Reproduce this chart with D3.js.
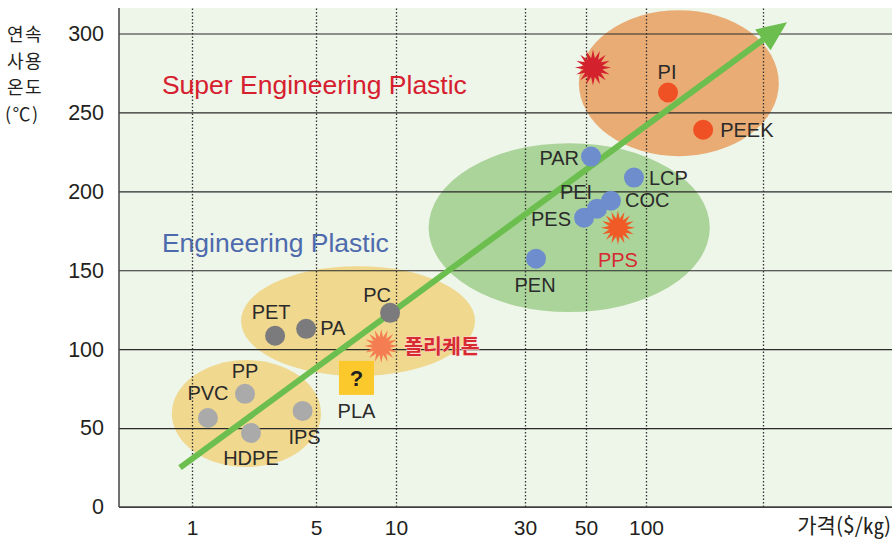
<!DOCTYPE html>
<html><head><meta charset="utf-8">
<script src="https://cdn.jsdelivr.net/npm/d3@7"></script>
<style>
html,body{margin:0;padding:0;background:#fff;}
text{font-family:"Liberation Sans",Arial,"Noto Sans CJK KR",sans-serif;}
.kr{font-family:"Noto Sans CJK KR","Liberation Sans",sans-serif;}
</style></head>
<body>
<svg id="c" width="892" height="539"></svg>
<script>
// ---- data ----
const yTicks = [0, 50, 100, 150, 200, 250, 300];
const xTickValues = [1, 5, 10, 30, 50, 100, 300];
const xTickLabels = ["1", "5", "10", "30", "50", "100", ""];
const yTitle = ["연속", "사용", "온도", "(℃)"];
const xTitle = "가격($/㎏)";

const commodityNames = ["PVC", "PP", "HDPE", "IPS"];
const commodityPrice = [1.23, 1.99, 2.15, 4.2];
const commodityTemp = [56.4, 71.7, 46.9, 60.9];

const engNames = ["PET", "PA", "PC"];
const engPrice = [2.94, 4.4, 9.5];
const engTemp = [108.5, 112.9, 123];

const superEngNames = ["PAR", "LCP", "COC", "PEI", "PES", "PEN"];
const superEngPrice = [53, 87, 66.7, 56.8, 49.2, 32.9];
const superEngTemp = [222, 208.7, 194, 189, 183.3, 157.3];

const topNames = ["PI", "PEEK"];
const topPrice = [123, 171];
const topTemp = [262.6, 239];

const starNames = ["폴리케톤", "PPS", ""];
const starPrice = [8.8, 72.3, 54.2];
const starTemp = [102, 177, 278.4];

const plaName = "PLA";
const plaPrice = 7.1;
const plaTemp = 81.8;

// group ellipses: [price min, price max] x [temp min, temp max]
const groupNames = ["commodity", "engineering", "superEng", "top"];
const groupPriceMin = [0.77, 1.89, 13.2, 47.1];
const groupPriceMax = [5.22, 19.6, 182, 348];
const groupTempMin = [25.3, 83.0, 123.5, 222.3];
const groupTempMax = [93.1, 152.6, 230.5, 314.8];

const trendFrom = [0.856, 24.9];
const trendTo = [376, 307.2];

const categoryLabels = ["Super Engineering Plastic", "Engineering Plastic"];
const categoryPrice = [0.677, 0.677];
const categoryTemp = [261.9, 161.5];

// ---- scales ----
const svg = d3.select("#c");
const plotL = 119, plotR = 892, plotT = 8, plotB = 507;
const xLog = d3.scaleLinear()
  .domain(xTickValues.map(Math.log10))
  .range([192, 316, 396, 525, 586, 646, 763]);
const x = v => xLog(Math.log10(v));
const y = d3.scaleLinear().domain([0, 300]).range([plotB, 33.5]);

// background
svg.append("rect").attr("x", plotL).attr("y", plotT)
  .attr("width", plotR - plotL).attr("height", plotB - plotT).attr("fill", "#eef5e9");

// ellipses
const groupColors = ["#f0d88f", "#f0d88f", "#abd49a", "#e9ac74"];
svg.append("g").selectAll("ellipse").data(groupNames).join("ellipse")
  .attr("cx", (d, i) => (x(groupPriceMin[i]) + x(groupPriceMax[i])) / 2)
  .attr("cy", (d, i) => (y(groupTempMin[i]) + y(groupTempMax[i])) / 2)
  .attr("rx", (d, i) => (x(groupPriceMax[i]) - x(groupPriceMin[i])) / 2)
  .attr("ry", (d, i) => (y(groupTempMin[i]) - y(groupTempMax[i])) / 2)
  .attr("fill", (d, i) => groupColors[i]);

// grid
const gy = svg.append("g")
  .attr("transform", `translate(${plotL},0)`)
  .call(d3.axisLeft(y).tickValues(yTicks).tickSize(-(plotR - plotL)).tickPadding(15));
gy.select(".domain").remove();
gy.selectAll(".tick line").attr("stroke", "#2a2a2a").attr("stroke-width", 1.2);
gy.selectAll(".tick text").attr("font-size", 21.5).attr("fill", "#231f20")
  .style("font-family", "'Liberation Sans',Arial,sans-serif");

const gx = svg.append("g")
  .attr("transform", `translate(0,${plotB})`)
  .call(d3.axisBottom(xLog).tickValues(xTickValues.map(Math.log10))
    .tickFormat((d, i) => xTickLabels[i]).tickSize(-(plotB - plotT)).tickPadding(13));
gx.select(".domain").remove();
gx.selectAll(".tick line").attr("stroke", "#333").attr("stroke-width", 1.3)
  .attr("stroke-dasharray", "1.5,2");
gx.selectAll(".tick text").attr("font-size", 21).attr("fill", "#231f20")
  .style("font-family", "'Liberation Sans',Arial,sans-serif");

// axis lines
svg.append("line").attr("x1", plotL).attr("x2", plotL).attr("y1", plotT).attr("y2", plotB)
  .attr("stroke", "#444").attr("stroke-width", 1.5);
svg.append("line").attr("x1", plotL).attr("x2", plotR).attr("y1", plotB).attr("y2", plotB)
  .attr("stroke", "#444").attr("stroke-width", 1.5);

// titles
svg.append("g").selectAll("text").data(yTitle).join("text").attr("class", "kr")
  .attr("x", (d, i) => i === 3 ? 5 : 7).attr("y", (d, i) => 41 + i * 26.5)
  .attr("font-size", 18).attr("letter-spacing", 1.5).attr("fill", "#231f20").text(d => d);
svg.append("text").attr("class", "kr").attr("x", 891).attr("y", 533)
  .attr("text-anchor", "end").attr("font-size", 21).attr("fill", "#231f20").text(xTitle);

// category labels
const catColors = ["#d6202f", "#4d6aad"];
svg.append("g").selectAll("text").data(categoryLabels).join("text")
  .attr("x", (d, i) => x(categoryPrice[i])).attr("y", (d, i) => y(categoryTemp[i]))
  .attr("font-size", 26.5).attr("fill", (d, i) => catColors[i]).text(d => d);

// trend arrow
const ax0 = x(trendFrom[0]), ay0 = y(trendFrom[1]);
const ax1 = x(trendTo[0]), ay1 = y(trendTo[1]);
const ang = Math.atan2(ay1 - ay0, ax1 - ax0);
const headL = 30, headW = 13;
const bx = ax1 - headL * Math.cos(ang), by = ay1 - headL * Math.sin(ang);
svg.append("line").attr("x1", ax0).attr("y1", ay0).attr("x2", bx + 2 * Math.cos(ang)).attr("y2", by + 2 * Math.sin(ang))
  .attr("stroke", "#6cbf4f").attr("stroke-width", 6);
svg.append("path").attr("d", d3.line()([
  [ax1, ay1],
  [bx + headW * Math.sin(ang), by - headW * Math.cos(ang)],
  [bx - headW * Math.sin(ang), by + headW * Math.cos(ang)]
]) + "Z").attr("fill", "#6cbf4f");

// label layout (dx, dy, anchor)
const lab = {
  PVC: [0, -18, "middle"], PP: [0, -16, "middle"], HDPE: [0, 32, "middle"], IPS: [2, 33, "middle"],
  PET: [-4, -17, "middle"], PA: [14, 6, "start"], PC: [-13, -11, "middle"],
  PAR: [-12, 8, "end"], LCP: [15, 7, "start"], COC: [14, 6, "start"], PEI: [-21, -10, "middle"],
  PES: [-13, 8, "end"], PEN: [-1, 33, "middle"], PI: [-1, -14, "middle"], PEEK: [17, 7, "start"]
};

function dots(names, price, temp, color) {
  const g = svg.append("g");
  g.selectAll("circle").data(names).join("circle")
    .attr("cx", (d, i) => x(price[i])).attr("cy", (d, i) => y(temp[i]))
    .attr("r", 10).attr("fill", color);
  g.selectAll("text").data(names).join("text")
    .attr("x", (d, i) => x(price[i]) + lab[d][0]).attr("y", (d, i) => y(temp[i]) + lab[d][1])
    .attr("text-anchor", d => lab[d][2]).attr("font-size", 20).attr("fill", "#2a2a2a").text(d => d);
}
dots(commodityNames, commodityPrice, commodityTemp, "#aaaaaa");
dots(engNames, engPrice, engTemp, "#7b7b7d");
dots(superEngNames, superEngPrice, superEngTemp, "#6e8dcd");
dots(topNames, topPrice, topTemp, "#ef5124");

// stars
function starPath(n, ro, ri) {
  const pts = d3.range(n * 2).map(k => [k * Math.PI / n, k % 2 ? ri : ro]);
  return d3.lineRadial().curve(d3.curveLinearClosed)(pts);
}
const starColors = ["#f47d52", "#f05a26", "#d3222e"];
const starSizes = [[17, 9], [17, 9], [18, 9.5]];
svg.append("g").selectAll("path").data(starNames).join("path")
  .attr("transform", (d, i) => `translate(${x(starPrice[i])},${y(starTemp[i])})`)
  .attr("d", (d, i) => starPath(16, starSizes[i][0], starSizes[i][1]))
  .attr("fill", (d, i) => starColors[i]);
// star labels
svg.append("text").attr("class", "kr").attr("x", x(starPrice[0]) + 23).attr("y", y(starTemp[0]) + 8)
  .attr("font-size", 20.5).attr("font-weight", "bold").attr("fill", "#d82a31")
  .attr("stroke", "#fbd6cf").attr("stroke-width", 1).attr("paint-order", "stroke").text(starNames[0]);
svg.append("text").attr("x", x(starPrice[1])).attr("y", y(starTemp[1]) + 39)
  .attr("text-anchor", "middle").attr("font-size", 20).attr("fill", "#d62a32").text(starNames[1]);

// PLA
const px = x(plaPrice), py = y(plaTemp);
svg.append("rect").attr("x", px - 17.5).attr("y", py - 17).attr("width", 35).attr("height", 34).attr("fill", "#fbc92c");
svg.append("text").attr("x", px).attr("y", py + 8).attr("text-anchor", "middle")
  .attr("font-size", 22).attr("font-weight", "bold").attr("fill", "#231f20").text("?");
svg.append("text").attr("x", px).attr("y", py + 40).attr("text-anchor", "middle")
  .attr("font-size", 20).attr("fill", "#2a2a2a").text(plaName);
</script>
</body></html>
